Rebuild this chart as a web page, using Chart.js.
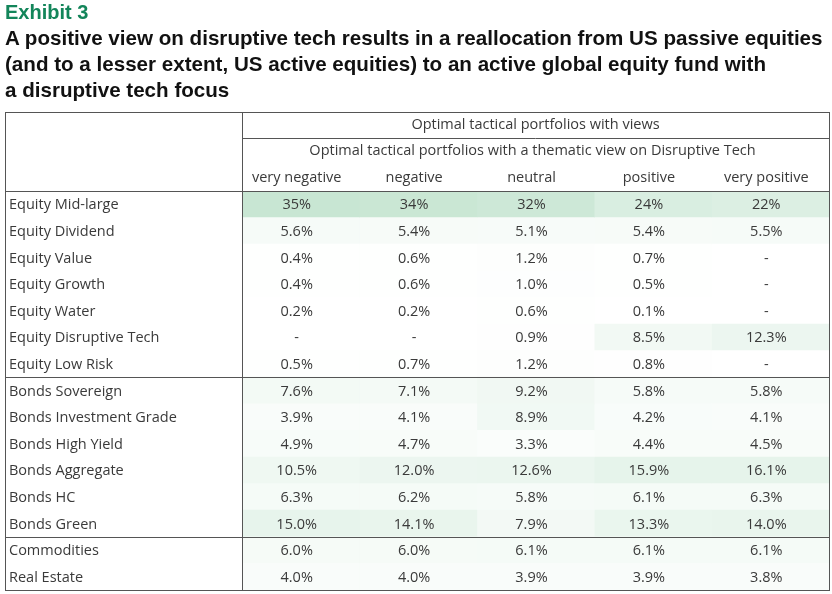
<!DOCTYPE html>
<html>
<head>
<meta charset="utf-8">
<script src="https://cdn.jsdelivr.net/npm/chart.js@4/dist/chart.umd.min.js"></script>
<style>
  body { margin: 0; background: #fff; }
  #wrap { position: relative; width: 832px; height: 594px; }
  #titulo { position: absolute; left: 5px; top: 0; font-family: "Liberation Sans", Arial, sans-serif; font-weight: bold; white-space: nowrap; }
  #titulo .ex { color: #13855a; font-size: 20px; line-height: 25px; }
  #titulo .t { color: #111; font-size: 20.6px; line-height: 26px; }
  canvas { position: absolute; left: 0; top: 0; }
</style>
</head>
<body>
<div id="wrap">
  <canvas id="grafico" width="832" height="594"></canvas>
  <div id="titulo">
    <div class="ex">Exhibit 3</div>
    <div class="t">A positive view on disruptive tech results in a reallocation from US passive equities<br>(and to a lesser extent, US active equities) to an active global equity fund with<br>a disruptive tech focus</div>
  </div>
</div>
<script>
// Datos de la tabla
const filas = ["Equity Mid-large", "Equity Dividend", "Equity Value", "Equity Growth", "Equity Water",
  "Equity Disruptive Tech", "Equity Low Risk", "Bonds Sovereign", "Bonds Investment Grade",
  "Bonds High Yield", "Bonds Aggregate", "Bonds HC", "Bonds Green", "Commodities", "Real Estate"];
const columnas = ["very negative", "negative", "neutral", "positive", "very positive"];
const veryNegative = [35, 5.6, 0.4, 0.4, 0.2, null, 0.5, 7.6, 3.9, 4.9, 10.5, 6.3, 15.0, 6.0, 4.0];
const negative     = [34, 5.4, 0.6, 0.6, 0.2, null, 0.7, 7.1, 4.1, 4.7, 12.0, 6.2, 14.1, 6.0, 4.0];
const neutral      = [32, 5.1, 1.2, 1.0, 0.6, 0.9, 1.2, 9.2, 8.9, 3.3, 12.6, 5.8, 7.9, 6.1, 3.9];
const positive     = [24, 5.4, 0.7, 0.5, 0.1, 8.5, 0.8, 5.8, 4.2, 4.4, 15.9, 6.1, 13.3, 6.1, 3.9];
const veryPositive = [22, 5.5, null, null, null, 12.3, null, 5.8, 4.1, 4.5, 16.1, 6.3, 14.0, 6.1, 3.8];
const series = [veryNegative, negative, neutral, positive, veryPositive];
const cabecera1 = "Optimal tactical portfolios with views";
const cabecera2 = "Optimal tactical portfolios with a thematic view on Disruptive Tech";

function colorCelda(v) {
  if (v == null) return "#ffffff";
  let t = Math.min(v / 35, 1);
  let r = Math.round(255 - t * (255 - 200));
  let g = Math.round(255 - t * (255 - 230));
  let b = Math.round(255 - t * (255 - 211));
  return `rgb(${r},${g},${b})`;
}
function texto(v) {
  if (v == null) return "-";
  return (v >= 20 ? v.toFixed(0) : v.toFixed(1)) + "%";
}

const datasets = series.map((s, c) => ({
  label: columnas[c],
  data: s.map(() => [c, c + 1]),
  backgroundColor: s.map(colorCelda),
  borderWidth: 0,
  barPercentage: 1,
  categoryPercentage: 1,
  grouped: false
}));

const fuente = '14.5px "Open Sans", "Noto Sans", sans-serif';
const tablaPlugin = {
  id: "tabla",
  afterDatasetsDraw(chart) {
    const ctx = chart.ctx;
    const area = chart.chartArea;
    const x = chart.scales.x, y = chart.scales.y;
    const izq = 5, der = 829, arriba = 112;
    ctx.save();
    ctx.font = fuente;
    ctx.fillStyle = "#3a3a3a";
    ctx.textBaseline = "middle";
    // valores
    series.forEach((s, c) => {
      const cx = (x.getPixelForValue(c) + x.getPixelForValue(c + 1)) / 2 - 4;
      s.forEach((v, i) => {
        ctx.textAlign = "center";
        ctx.fillText(texto(v), cx, y.getPixelForValue(i) + 1);
      });
    });
    // etiquetas de filas
    ctx.textAlign = "left";
    filas.forEach((f, i) => ctx.fillText(f, 9, y.getPixelForValue(i) + 1));
    // cabeceras
    ctx.textAlign = "center";
    const mid = (area.left + der) / 2;
    ctx.fillText(cabecera1, mid, 125);
    ctx.fillText(cabecera2, mid - 3, 151);
    columnas.forEach((c, i) => {
      ctx.fillText(c, (x.getPixelForValue(i) + x.getPixelForValue(i + 1)) / 2 - 4, 178);
    });
    // lineas
    ctx.strokeStyle = "#555";
    ctx.lineWidth = 1;
    const h = area.bottom - area.top;
    const filaH = h / filas.length;
    const linea = (x1, y1, x2, y2) => { ctx.beginPath(); ctx.moveTo(x1, y1); ctx.lineTo(x2, y2); ctx.stroke(); };
    ctx.strokeRect(izq + 0.5, arriba + 0.5, der - izq, area.bottom - arriba);
    linea(area.left + 0.5, arriba, area.left + 0.5, area.bottom);
    linea(area.left, 138.5, der, 138.5);
    linea(izq, area.top + 0.5, der, area.top + 0.5);
    linea(izq, Math.round(area.top + 7 * filaH) + 0.5, der, Math.round(area.top + 7 * filaH) + 0.5);
    linea(izq, Math.round(area.top + 13 * filaH) + 0.5, der, Math.round(area.top + 13 * filaH) + 0.5);
    ctx.restore();
  }
};

new Chart(document.getElementById("grafico"), {
  type: "bar",
  data: { labels: filas, datasets: datasets },
  options: {
    responsive: false,
    animation: false,
    indexAxis: "y",
    layout: { padding: { left: 242, top: 191, right: 3, bottom: 4 } },
    scales: {
      x: { type: "linear", min: 0, max: 5, display: false },
      y: { type: "category", display: false }
    },
    plugins: { legend: { display: false }, tooltip: { enabled: false } }
  },
  plugins: [tablaPlugin]
});
</script>
</body>
</html>
